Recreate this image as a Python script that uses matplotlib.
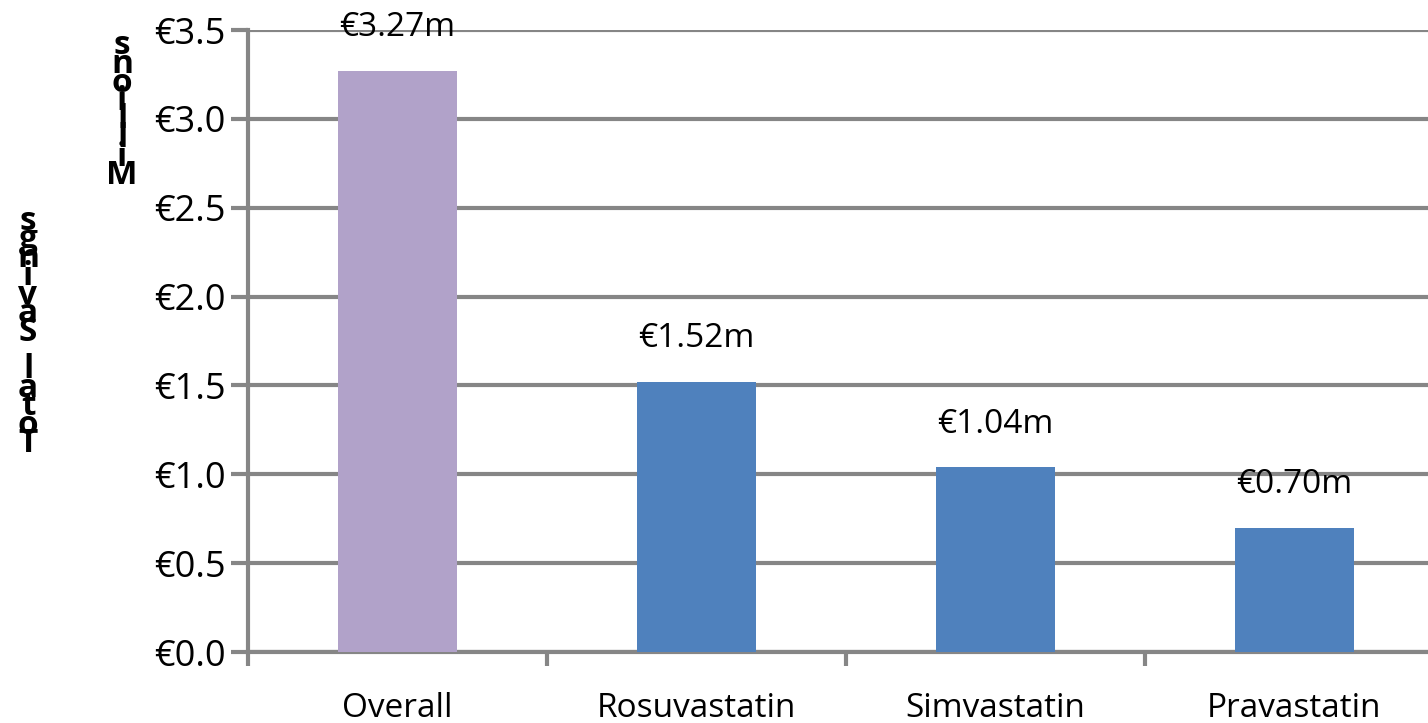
import matplotlib
matplotlib.use("Agg")
import matplotlib.pyplot as plt

categories = ["Overall", "Rosuvastatin", "Simvastatin", "Pravastatin"]
values = [3.27, 1.52, 1.04, 0.70]
value_labels = ["€3.27m", "€1.52m", "€1.04m", "€0.70m"]
colors = ["#b1a2c9", "#4f81bd", "#4f81bd", "#4f81bd"]
yticks = [0.0, 0.5, 1.0, 1.5, 2.0, 2.5, 3.0, 3.5]
ytick_labels = ["€0.0", "€0.5", "€1.0", "€1.5", "€2.0", "€2.5", "€3.0", "€3.5"]
ylabel_main = "Total Savings"
ylabel_unit = "Millions"

plt.rcParams['font.family'] = ['Open Sans', 'DejaVu Sans']
fig = plt.figure(figsize=(14.28, 7.23), dpi=100)
ax = fig.add_axes([248/1428, 1 - 652/723, 1196/1428, (652-30)/723])

grid_c = "#868686"
x = range(len(categories))
ax.bar(x, values, width=0.395, color=colors, zorder=3)
ax.set_xlim(-0.5, 3.5)
ax.set_ylim(0, 3.5)
ax.set_yticks(yticks)
ax.set_yticklabels(ytick_labels, fontsize=26)
ax.set_xticks([0, 1, 2, 3])
ax.set_xticklabels(categories, fontsize=24)
ax.tick_params(axis='x', length=0, pad=29)
ax.tick_params(axis='y', length=12, width=3, color=grid_c, pad=4)
ax.set_xticks([-0.5, 0.5, 1.5, 2.5, 3.5], minor=True)
ax.tick_params(axis='x', which='minor', length=10, width=3, color=grid_c, direction='out')
ax.yaxis.grid(True, color=grid_c, linewidth=3, zorder=0)
for s in ["top", "right"]:
    ax.spines[s].set_visible(False)
for s in ["left", "bottom"]:
    ax.spines[s].set_color(grid_c)
    ax.spines[s].set_linewidth(3)

for xi, v, lab in zip(x, values, value_labels):
    ax.text(xi, v + 0.15, lab, ha='center', va='bottom', fontsize=24)

# stacked (garbled) axis titles: characters upright, read bottom-to-top
def stacked(text, xpx, ybottom_px, step_px):
    for i, ch in enumerate(text):
        if ch == " ":
            continue
        fig.text(xpx/1428, 1 - (ybottom_px - i*step_px)/723, ch, ha='center', va='baseline',
                 fontsize=24, fontweight='bold')

stacked(ylabel_main, 28, 452, 18.5)
stacked(ylabel_unit, 122, 184, 18.5)

fig.savefig("out.png", dpi=100)
